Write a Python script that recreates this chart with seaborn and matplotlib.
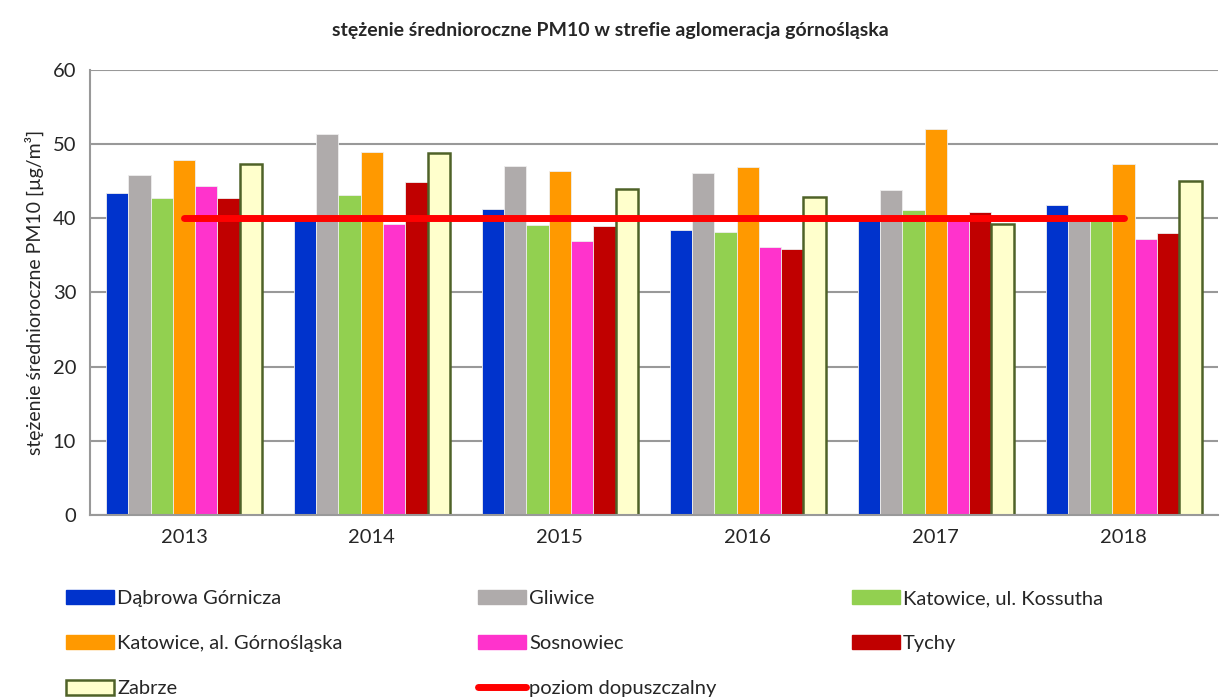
import matplotlib
matplotlib.use('Agg')
import matplotlib.pyplot as plt
from matplotlib.patches import Patch
from matplotlib.lines import Line2D
import seaborn as sns
import pandas as pd

# data
years = ['2013', '2014', '2015', '2016', '2017', '2018']
dabrowa = [43.4, 40.5, 41.2, 38.4, 40.0, 41.8]
gliwice = [45.9, 51.4, 47.0, 46.1, 43.8, 40.0]
kossutha = [42.8, 43.1, 39.1, 38.1, 41.1, 40.0]
gornoslaska = [47.9, 49.0, 46.4, 46.9, 52.0, 47.3]
sosnowiec = [44.3, 39.3, 36.9, 36.1, 40.0, 37.2]
tychy = [42.8, 44.9, 39.0, 35.9, 40.9, 38.0]
zabrze = [47.3, 48.8, 43.9, 42.9, 39.2, 45.0]
limit = [40, 40, 40, 40, 40, 40]

stations = ['Dąbrowa Górnicza', 'Gliwice', 'Katowice, ul. Kossutha',
            'Katowice, al. Górnośląska', 'Sosnowiec', 'Tychy', 'Zabrze']
series = [dabrowa, gliwice, kossutha, gornoslaska, sosnowiec, tychy, zabrze]
colors = ['#0033CC', '#AFABAB', '#92D050', '#FF9900', '#FF33CC', '#C00000', '#FFFFCC']
zabrze_edge = '#4F6228'

rows = []
for name, vals in zip(stations, series):
    for y, v in zip(years, vals):
        rows.append({'rok': y, 'stacja': name, 'wartosc': v})
df = pd.DataFrame(rows)

sns.set_style('white')
plt.rcParams['font.family'] = ['Lato', 'DejaVu Sans']

fig = plt.figure(figsize=(12.2, 6.98), dpi=100)
ax = fig.add_axes([0.0738, 0.2622, 0.9242, 0.6375])

sns.barplot(data=df, x='rok', y='wartosc', hue='stacja', order=years,
            hue_order=stations, palette=colors, width=0.83, saturation=1,
            edgecolor='#eeeeee', linewidth=0.6, legend=False, ax=ax)

# Zabrze bars get a dark green outline
for bar in ax.containers[6]:
    bar.set_edgecolor(zabrze_edge)
    bar.set_linewidth(1.8)

ax.plot(range(len(years)), limit, color='#FF0000', lw=5, solid_capstyle='round', zorder=5)

ax.set_xlim(-0.5, 5.5)
ax.set_ylim(0, 60)
ax.set_yticks(range(0, 61, 10))
ax.yaxis.grid(True, color='#999999', lw=1.5)
ax.set_axisbelow(True)
for s in ['top', 'right']:
    ax.spines[s].set_visible(False)
for s in ['left', 'bottom']:
    ax.spines[s].set_color('#999999')
    ax.spines[s].set_linewidth(1.5)

ax.set_xticks([i - 0.5 for i in range(7)], minor=True)
ax.tick_params(axis='x', which='major', length=0, labelsize=14.5, pad=10)
ax.tick_params(axis='x', which='minor', length=6, width=1.5, color='#999999')
ax.tick_params(axis='y', length=6, width=1.5, color='#999999', labelsize=14.5, pad=4)
ax.set_xlabel('')
ax.set_ylabel('stężenie średnioroczne PM10 [µg/m³]', fontsize=14, labelpad=6)

fig.text(0.5, 0.957, 'stężenie średnioroczne PM10 w strefie aglomeracja górnośląska',
         ha='center', va='center', fontsize=14, fontweight='bold')

handles = []
for name, c in zip(stations, colors):
    if name == 'Zabrze':
        handles.append(Patch(facecolor=c, edgecolor=zabrze_edge, linewidth=1.8, label=name))
    else:
        handles.append(Patch(facecolor=c, edgecolor=c, label=name))
handles.append(Line2D([0], [0], color='#FF0000', lw=5, solid_capstyle='round',
                      label='poziom dopuszczalny'))

# matplotlib fills legend column-wise, reorder so rows read like the original
order = [0, 3, 6, 1, 4, 7, 2, 5]
fig.legend([handles[i] for i in order], [handles[i].get_label() for i in order],
           ncol=3, loc='lower left', bbox_to_anchor=(0.039, -0.025, 0.88, 0.2),
           mode='expand', frameon=False, fontsize=14.5, handlelength=2.4,
           handleheight=0.75, handletextpad=0.15, labelspacing=1.38)

fig.savefig('out.png', dpi=100)
